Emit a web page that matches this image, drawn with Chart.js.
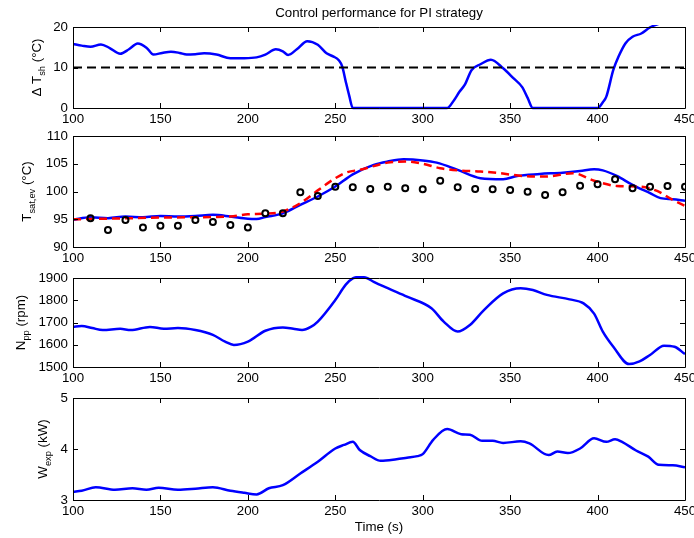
<!DOCTYPE html>
<html>
<head>
<meta charset="utf-8">
<script src="https://cdn.jsdelivr.net/npm/chart.js@4.4.1/dist/chart.umd.min.js"></script>
<style>
body { margin: 0; background: #fff; }
#wrap { position: relative; width: 694px; height: 538px; overflow: hidden; }
canvas { position: absolute; left: 0; }
</style>
</head>
<body>
<div id="wrap">
  <canvas id="c1" width="694" height="128" style="top:0px"></canvas>
  <canvas id="c2" width="694" height="139" style="top:128px"></canvas>
  <canvas id="c3" width="694" height="120" style="top:267px"></canvas>
  <canvas id="c4" width="694" height="151" style="top:387px"></canvas>
</div>
<script>
// superheat (panel 1)
const shTime = [100, 105, 110, 116, 121, 127, 132, 137, 142, 146, 151, 156, 161, 165, 170, 175, 182, 190, 198, 205,
  210, 216, 220, 223, 228, 234, 240, 245, 249, 252, 254, 256, 258, 260, 280, 300, 314, 318, 321, 324, 328, 333, 339,
  346, 352, 357, 360, 363, 380, 400, 403, 405, 409, 412, 416, 420, 425, 430, 440, 450];
const shValue = [15.8, 15.4, 15.1, 15.7, 14.8, 13.4, 14.5, 15.9, 14.9, 13.2, 13.6, 13.9, 13.6, 13.2, 13.3, 13.5, 13.2, 12.3, 12.3, 12.5,
  13.2, 14.5, 14.0, 13.1, 14.5, 16.5, 15.6, 13.5, 12.7, 11.8, 10.2, 6.5, 3.0, 0, 0, 0, 0, 2.0, 4.0, 5.7, 9.4, 10.8, 11.9,
  9.8, 7.3, 5.1, 2.5, 0, 0, 0, 1.4, 2.8, 9.4, 12.7, 16.0, 17.6, 18.4, 19.9, 21.5, 23];
const shRefTime = [100, 450];
const shRefValue = [10, 10];

// evaporating temperature (panel 2)
const tsTime = [100, 110, 120, 130, 140, 150, 160, 170, 180, 190, 200, 205, 210, 220, 230, 240, 250, 260, 272, 280,
  289, 300, 308, 320, 333, 346, 354, 367, 380, 390, 398, 403, 411, 420, 430, 436, 443, 450];
const tsValue = [94.9, 95.35, 95.2, 95.5, 95.35, 95.6, 95.5, 95.6, 95.8, 95.5, 95.1, 95.05, 95.4, 96.07, 97.6, 99.1, 100.9, 103.1, 104.8, 105.4,
  105.8, 105.6, 105.2, 103.9, 102.4, 102.2, 102.8, 103.15, 103.4, 103.7, 104.0, 103.8, 102.8, 101.2, 99.7, 98.8, 98.6, 98.35];
const tsRefTime = [100, 120, 150, 180, 190, 200, 210, 220, 230, 240, 250, 257, 264, 280, 291, 300, 310, 320, 333, 344,
  357, 371, 386, 398, 411, 424, 434, 443, 450];
const tsRefValue = [95.0, 95.1, 95.3, 95.4, 95.5, 95.9, 96.0, 96.4, 97.9, 100.2, 102.4, 103.5, 103.9, 105.2, 105.4, 105.0, 104.2, 103.8, 103.6, 103.3,
  102.8, 102.7, 103.3, 101.95, 101.0, 100.9, 100.1, 98.5, 97.4];
const tsMeasTime = [110, 120, 130, 140, 150, 160, 170, 180, 190, 200, 210, 220, 230, 240, 250, 260, 270, 280, 290, 300,
  310, 320, 330, 340, 350, 360, 370, 380, 390, 400, 410, 420, 430, 440, 450];
const tsMeasValue = [95.2, 93.06, 94.86, 93.5, 93.85, 93.85, 94.86, 94.5, 93.96, 93.5, 96.07, 96.07, 99.85, 99.2, 100.87, 100.76, 100.45, 100.87, 100.6, 100.4,
  101.95, 100.76, 100.45, 100.4, 100.27, 99.97, 99.37, 99.85, 101.05, 101.3, 102.2, 100.57, 100.87, 100.97, 100.87];

// pump speed (panel 3)
const npTime = [100, 105, 111, 117, 127, 133, 144, 152, 160, 170, 180, 187, 192, 200, 210, 220, 226, 231, 236, 240,
  250, 256, 260, 264, 268, 272, 280, 291, 305, 312, 320, 327, 335, 346, 356, 363, 371, 384, 392, 398,
  403, 409, 418, 424, 430, 438, 444, 450];
const npValue = [1681, 1684, 1675, 1666, 1672, 1666, 1680, 1672, 1675, 1666, 1644, 1614, 1599, 1614, 1663, 1678, 1672, 1666, 1680, 1704,
  1801, 1870, 1898, 1905, 1900, 1883, 1854, 1816, 1764, 1704, 1659, 1689, 1756, 1831, 1854, 1846, 1824, 1804, 1786, 1740,
  1659, 1591, 1513, 1525, 1554, 1596, 1591, 1558];

// expander power (panel 4)
const wTime = [100, 105, 113, 124, 134, 142, 149, 160, 170, 180, 190, 198, 205, 212, 220, 230, 240, 250, 255, 260,
  264, 270, 276, 285, 291, 297, 300, 306, 314, 322, 327, 334, 340, 346, 356, 361, 372, 377, 383, 390,
  398, 405, 410, 414, 422, 429, 435, 443, 450];
const wValue = [3.16, 3.18, 3.25, 3.2, 3.23, 3.2, 3.24, 3.2, 3.22, 3.25, 3.18, 3.14, 3.11, 3.23, 3.29, 3.52, 3.75, 4.01, 4.08, 4.14,
  3.98, 3.86, 3.77, 3.8, 3.83, 3.86, 3.9, 4.18, 4.39, 4.29, 4.28, 4.16, 4.16, 4.12, 4.15, 4.11, 3.88, 3.95, 3.92, 4.01,
  4.21, 4.14, 4.19, 4.14, 3.97, 3.85, 3.69, 3.68, 3.64];

const FONT = "'Liberation Sans', Arial, Helvetica, sans-serif";
const FS = 13.3;

// texts drawn by the frame plugin, per canvas
const panelText = {
  c1: { labelX: 40.5, label: [['\u0394 T'], ['sh', 1], [' (\u00b0C)']], title: 'Control performance for PI strategy' },
  c2: { labelX: 31, label: [['T'], ['sat,ev', 1], [' (\u00b0C)']] },
  c3: { labelX: 25, label: [['N'], ['pp', 1], [' (rpm)']] },
  c4: { labelX: 46.5, label: [['W'], ['exp', 1], [' (kW)']], xlabel: 'Time (s)' }
};

const xy = (xs, ys) => xs.map((x, i) => ({ x: x, y: ys[i] }));

// matlab-like box, inward ticks, ylabel with subscript
const frame = {
  id: 'frame',
  afterDatasetsDraw(chart) {
    const { ctx, chartArea: a, scales } = chart;
    const t = panelText[chart.canvas.id];
    ctx.save();
    ctx.strokeStyle = '#000';
    ctx.lineWidth = 1;
    ctx.beginPath();
    ctx.rect(a.left + 0.5, a.top + 0.5, a.width, a.height);
    scales.x.ticks.forEach(tk => {
      const px = Math.round(scales.x.getPixelForValue(tk.value)) + 0.5;
      ctx.moveTo(px, a.bottom); ctx.lineTo(px, a.bottom - 5);
      ctx.moveTo(px, a.top); ctx.lineTo(px, a.top + 5);
    });
    scales.y.ticks.forEach(tk => {
      const py = Math.round(scales.y.getPixelForValue(tk.value)) + 0.5;
      ctx.moveTo(a.left, py); ctx.lineTo(a.left + 5, py);
      ctx.moveTo(a.right, py); ctx.lineTo(a.right - 5, py);
    });
    ctx.stroke();

    ctx.fillStyle = '#000';
    ctx.textAlign = 'center';
    ctx.textBaseline = 'middle';
    ctx.font = FS + 'px ' + FONT;
    const mid = (a.left + a.right) / 2;
    if (t.title) ctx.fillText(t.title, mid, 13);
    if (t.xlabel) ctx.fillText(t.xlabel, mid, 140);

    ctx.translate(t.labelX, (a.top + a.bottom) / 2);
    ctx.rotate(-Math.PI / 2);
    ctx.textAlign = 'left';
    ctx.textBaseline = 'alphabetic';
    const widths = t.label.map(p => {
      ctx.font = (p[1] ? 9.3 : FS) + 'px ' + FONT;
      return ctx.measureText(p[0]).width;
    });
    let cx = -widths.reduce((s, w) => s + w, 0) / 2;
    t.label.forEach((p, i) => {
      ctx.font = (p[1] ? 9.3 : FS) + 'px ' + FONT;
      ctx.fillText(p[0], cx, p[1] ? 4 : 0);
      cx += widths[i];
    });
    ctx.restore();
  }
};
Chart.register(frame);

function makeOptions(yMin, yMax, yStep, padTop, padBottom) {
  return {
    responsive: false,
    animation: false,
    layout: { padding: { top: padTop, right: 9, left: 0, bottom: padBottom || 0 } },
    plugins: { legend: { display: false }, tooltip: { enabled: false } },
    scales: {
      x: {
        type: 'linear', min: 100, max: 450,
        grid: { display: false, drawTicks: false },
        border: { display: false },
        ticks: {
          stepSize: 50, padding: 3, color: '#000', maxRotation: 0, autoSkip: false,
          font: { family: FONT, size: FS }, callback: v => String(v)
        },
        afterFit(s) { s.height = 20; s.paddingLeft = 0; s.paddingRight = 0; }
      },
      y: {
        min: yMin, max: yMax,
        grid: { display: false, drawTicks: false },
        border: { display: false },
        ticks: { stepSize: yStep, padding: 5, color: '#000', font: { family: FONT, size: FS }, callback: v => String(v) },
        afterFit(s) { s.width = 73; s.paddingTop = 0; s.paddingBottom = 0; }
      }
    }
  };
}

function blueLine(xs, ys) {
  return {
    data: xy(xs, ys), borderColor: '#0000ff', borderWidth: 2.5, pointRadius: 0,
    cubicInterpolationMode: 'monotone', clip: { left: 0, right: 0, top: 2, bottom: 2 }
  };
}

new Chart(document.getElementById('c1'), {
  type: 'line',
  data: {
    datasets: [
      { data: xy(shRefTime, shRefValue), borderColor: '#000', borderWidth: 2.2, borderDash: [9, 5], pointRadius: 0 },
      blueLine(shTime, shValue)
    ]
  },
  options: makeOptions(0, 20, 10, 27)
});

new Chart(document.getElementById('c2'), {
  type: 'line',
  data: {
    datasets: [
      {
        data: xy(tsMeasTime, tsMeasValue), showLine: false, pointRadius: 3, pointBorderWidth: 2,
        pointBorderColor: '#000', pointBackgroundColor: 'rgba(0,0,0,0)'
      },
      {
        data: xy(tsRefTime, tsRefValue), borderColor: '#ff0000', borderWidth: 2.5, borderDash: [8, 5],
        pointRadius: 0, cubicInterpolationMode: 'monotone'
      },
      blueLine(tsTime, tsValue)
    ]
  },
  options: makeOptions(90, 110, 5, 8)
});

new Chart(document.getElementById('c3'), {
  type: 'line',
  data: { datasets: [blueLine(npTime, npValue)] },
  options: makeOptions(1500, 1900, 100, 11)
});

new Chart(document.getElementById('c4'), {
  type: 'line',
  data: { datasets: [blueLine(wTime, wValue)] },
  options: makeOptions(3, 5, 1, 11, 18)
});
</script>
</body>
</html>
